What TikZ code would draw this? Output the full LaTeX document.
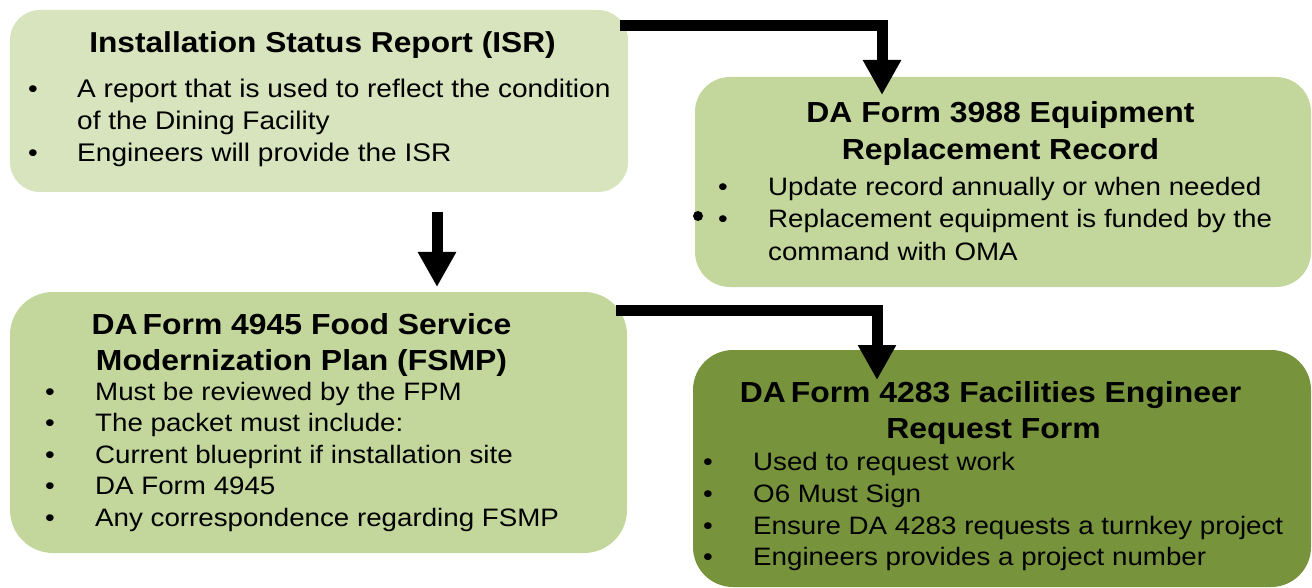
\documentclass[tikz,border=0pt]{standalone}
\usepackage{fontspec}
\setmainfont[FakeStretch=1.1]{Liberation Sans}
\usetikzlibrary{arrows.meta}
\definecolor{isrc}{HTML}{D7E4BD}
\definecolor{midc}{HTML}{C3D69B}
\definecolor{darkc}{HTML}{77933C}
\tikzset{
  box/.style={anchor=north west, inner sep=0pt, outer sep=0pt, draw=none},
  ttl/.style={anchor=base, inner sep=0pt, font=\fontsize{29}{34}\selectfont\bfseries},
  txt/.style={anchor=base west, inner sep=0pt, font=\fontsize{25.2}{30}\selectfont},
  bul/.style={anchor=base, inner sep=0pt, font=\fontsize{25.2}{30}\selectfont},
  flow/.style={line width=11pt, line join=miter, -{Triangle[length=35pt,width=36pt]}},
}
\begin{document}
\begin{tikzpicture}[x=1pt,y=-1pt]
\useasboundingbox (0,0) rectangle (1312,588);
% boxes
\node[box, fill=isrc, rounded corners=30pt, minimum width=618pt, minimum height=182pt] (isr) at (10,10) {};
\node[box, fill=midc, rounded corners=35pt, minimum width=616pt, minimum height=210pt] (f3988) at (695,77) {};
\node[box, fill=midc, rounded corners=43pt, minimum width=617pt, minimum height=261pt] (f4945) at (10,292) {};
\node[box, fill=darkc, rounded corners=40pt, minimum width=618pt, minimum height=237pt] (f4283) at (693,350) {};
% ISR text
\node[ttl] (t1) at (322.5,53) {\fontsize{28.8}{34}\selectfont Installation Status Report (ISR)};
\node[bul] (b11) at (33,98) {•};
\node[txt] (l11) at (77,98) {\fontsize{25.5}{30}\selectfont A report that is used to reflect the condition};
\node[txt] (l12) at (77,130) {\fontsize{25.5}{30}\selectfont of the Dining Facility};
\node[bul] (b13) at (33,162) {•};
\node[txt] (l13) at (77,162) {\fontsize{25.5}{30}\selectfont Engineers will provide the ISR};
% 3988 text
\node[ttl] (t2a) at (1000.5,123) {DA Form 3988 Equipment};
\node[ttl] (t2b) at (1000.5,160) {Replacement Record};
\node[bul] (b21) at (723,196) {•};
\node[txt] (l21) at (768,196) {Update record annually or when needed};
\node[bul] (b22) at (723,228) {•};
\node[txt] (l22) at (768,228) {Replacement equipment is funded by the};
\node[txt] (l23) at (768,260) {command with OMA};
\fill (698,216) circle (5pt);
% 4945 text
\node[ttl] (t3a) at (301.5,334) {DA\kern5pt Form 4945 Food Service};
\node[ttl] (t3b) at (301.5,370) {Modernization Plan (FSMP)};
\node[bul] (b31) at (50,400) {•};
\node[txt] (l31) at (95,400) {Must be reviewed by the FPM};
\node[bul] (b32) at (50,431) {•};
\node[txt] (l32) at (95,431) {The packet must include:};
\node[bul] (b33) at (50,463) {•};
\node[txt] (l33) at (95,463) {Current blueprint if installation site};
\node[bul] (b34) at (50,494) {•};
\node[txt] (l34) at (95,494) {DA Form 4945};
\node[bul] (b35) at (50,526) {•};
\node[txt] (l35) at (95,526) {Any correspondence regarding FSMP};
% 4283 text
\node[ttl] (t4a) at (990.5,402) {DA\kern5pt Form 4283 Facilities Engineer};
\node[ttl] (t4b) at (993.5,438) {Request Form};
\node[bul] (b41) at (708,470) {•};
\node[txt] (l41) at (753,470) {Used to request work};
\node[bul] (b42) at (708,502) {•};
\node[txt] (l42) at (753,502) {O6 Must Sign};
\node[bul] (b43) at (708,534) {•};
\node[txt] (l43) at (753,534) {Ensure DA 4283 requests a turnkey project};
\node[bul] (b44) at (708,565) {•};
\node[txt] (l44) at (753,565) {Engineers provides a project number};
% arrows
\coordinate (a1s) at ([shift={(-8,16)}]isr.north east);
\coordinate (a1e) at ([shift={(187,18)}]f3988.north west);
\draw[flow] (a1s) -| (a1e);
\coordinate (a2s) at ([shift={(427,20)}]isr.south west);
\coordinate (a2e) at ([shift={(427,-5)}]f4945.north west);
\draw[flow] (a2s) -- (a2e);
\coordinate (a3s) at ([shift={(-11,18)}]f4945.north east);
\coordinate (a3e) at ([shift={(184,30)}]f4283.north west);
\draw[flow] (a3s) -| (a3e);
\end{tikzpicture}
\end{document}
